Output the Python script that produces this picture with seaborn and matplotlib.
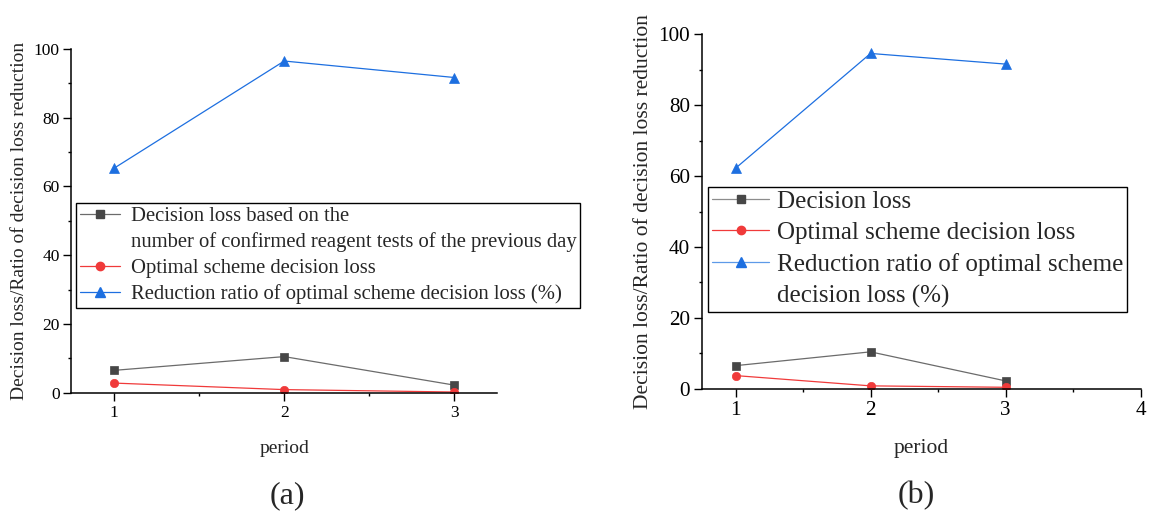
import matplotlib
matplotlib.use("Agg")
import matplotlib.pyplot as plt
from matplotlib.lines import Line2D
from matplotlib.ticker import MultipleLocator
import seaborn as sns
import pandas as pd

sns.set_style("ticks")
plt.rcParams["font.family"] = ["Liberation Serif", "DejaVu Serif"]
plt.rcParams["mathtext.fontset"] = "stix"

# Panel (a)
periods_a = [1, 2, 3]
loss_prev_day_a = [6.5, 10.5, 2.2]
loss_optimal_a = [2.8, 0.9, 0.2]
reduction_ratio_a = [65.3, 96.5, 91.7]

# Panel (b)
periods_b = [1, 2, 3]
loss_b = [6.5, 10.4, 2.2]
loss_optimal_b = [3.7, 0.8, 0.4]
reduction_ratio_b = [62.2, 94.6, 91.6]

labels_a = ["Decision loss based on the",
            "number of confirmed reagent tests of the previous day",
            "Optimal scheme decision loss",
            "Reduction ratio of optimal scheme decision loss (%)"]
labels_b = ["Decision loss",
            "Optimal scheme decision loss",
            "Reduction ratio of optimal scheme",
            "decision loss (%)"]

xlabel = "period"
ylabel = "Decision loss/Ratio of decision loss reduction"

GRAY_LINE, GRAY_MARK = "#6b6b6b", "#474747"
RED = "#f03a3a"
BLUE = "#1d6fe0"

fig = plt.figure(figsize=(11.58, 5.13), dpi=100)
ax_a = fig.add_axes([0.0617, 0.2345, 0.4292 - 0.0617, 0.9045 - 0.2345])
ax_b = fig.add_axes([0.6060, 0.2423, 0.9850 - 0.6060, 0.9331 - 0.2423])


def draw_series(ax, x, y, line_color, mark_color, marker, ms):
    df = pd.DataFrame({"x": x, "y": y})
    sns.lineplot(data=df, x="x", y="y", ax=ax, color=line_color, lw=0.9,
                 marker=marker, markersize=ms, markerfacecolor=mark_color,
                 markeredgecolor=mark_color, markeredgewidth=0.5)


def style_axes(ax, xmax, tick_fs, label_fs):
    ax.set_xlim(0.75, xmax)
    ax.set_ylim(0, 100)
    ax.xaxis.set_major_locator(MultipleLocator(1))
    ax.xaxis.set_minor_locator(MultipleLocator(0.5))
    ax.yaxis.set_major_locator(MultipleLocator(20))
    ax.yaxis.set_minor_locator(MultipleLocator(10))
    ax.tick_params(which="major", direction="out", length=5.5, width=1,
                   labelsize=tick_fs, colors="black", pad=3)
    ax.tick_params(which="minor", direction="out", length=2.2, width=1,
                   colors="black")
    for side in ("top", "right"):
        ax.spines[side].set_visible(False)
    for side in ("left", "bottom"):
        ax.spines[side].set_linewidth(1.1)
        ax.spines[side].set_color("black")
    ax.set_xlabel(xlabel, fontsize=label_fs, labelpad=14)
    ax.set_ylabel(ylabel, fontsize=label_fs, labelpad=4)


def legend_handle(color, mark_color, marker, ms):
    return Line2D([], [], color=color, lw=0.9, marker=marker, markersize=ms,
                  markerfacecolor=mark_color, markeredgecolor=mark_color)


blank = Line2D([], [], color="none", lw=0)

# ---- (a)
draw_series(ax_a, periods_a, loss_prev_day_a, GRAY_LINE, GRAY_MARK, "s", 5.5)
draw_series(ax_a, periods_a, loss_optimal_a, RED, RED, "o", 6)
draw_series(ax_a, periods_a, reduction_ratio_a, BLUE, BLUE, "^", 7)
style_axes(ax_a, 3.25, 12.5, 14)
handles_a = [legend_handle(GRAY_LINE, GRAY_MARK, "s", 5.5), blank,
             legend_handle(RED, RED, "o", 6),
             legend_handle(BLUE, BLUE, "^", 7)]
leg_a = fig.legend(handles_a, labels_a, loc="upper left",
                   bbox_to_anchor=(0.0654, 0.6049), fontsize=14.9,
                   frameon=True, fancybox=False, framealpha=1, edgecolor="black",
                   borderpad=0.2, labelspacing=0.3, handlelength=1.95,
                   handletextpad=0.5, borderaxespad=0)
leg_a.get_frame().set_linewidth(1.0)

# ---- (b)
draw_series(ax_b, periods_b, loss_b, GRAY_LINE, GRAY_MARK, "s", 5.5)
draw_series(ax_b, periods_b, loss_optimal_b, RED, RED, "o", 6)
draw_series(ax_b, periods_b, reduction_ratio_b, BLUE, BLUE, "^", 7)
style_axes(ax_b, 4.0, 15.2, 15.5)
handles_b = [legend_handle("#8c8c8c", GRAY_MARK, "s", 5.5),
             legend_handle(RED, RED, "o", 6),
             legend_handle("#5d9ae8", BLUE, "^", 7), blank]
leg_b = fig.legend(handles_b, labels_b, loc="upper left",
                   bbox_to_anchor=(0.6114, 0.636), fontsize=18,
                   frameon=True, fancybox=False, framealpha=1, edgecolor="black",
                   borderpad=0.15, labelspacing=0.35, handlelength=2.3,
                   handletextpad=0.3, borderaxespad=0)
leg_b.get_frame().set_linewidth(1.0)

fig.text(287 / 1158, 1 - 496 / 513, "(a)", fontsize=23, ha="center", va="center")
fig.text(916 / 1158, 1 - 496 / 513, "(b)", fontsize=23, ha="center", va="center")

fig.savefig("out.png", dpi=100)
